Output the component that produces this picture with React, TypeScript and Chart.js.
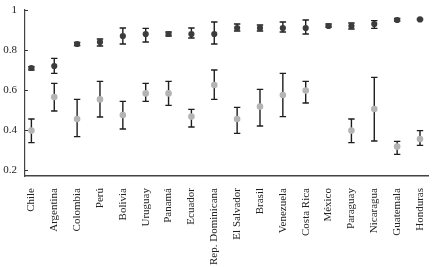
import React, { useEffect, useRef } from "react";
import { Chart, registerables } from "chart.js";

Chart.register(...registerables);

const countries = [
  "Chile", "Argentina", "Colombia", "Perú", "Bolivia", "Uruguay", "Panamá", "Ecuador",
  "Rep. Dominicana", "El Salvador", "Brasil", "Venezuela", "Costa Rica", "México",
  "Paraguay", "Nicaragua", "Guatemala", "Honduras",
];

const upperMean = [0.71, 0.72, 0.83, 0.84, 0.87, 0.88, 0.88, 0.88, 0.88, 0.91, 0.91, 0.91, 0.91, 0.92, 0.92, 0.93, 0.95, 0.953];
const upperLow = [0.70, 0.683, 0.822, 0.82, 0.83, 0.84, 0.87, 0.86, 0.83, 0.895, 0.895, 0.89, 0.88, 0.915, 0.905, 0.908, 0.945, 0.95];
const upperHigh = [0.717, 0.758, 0.838, 0.855, 0.91, 0.908, 0.89, 0.91, 0.94, 0.93, 0.925, 0.94, 0.95, 0.93, 0.935, 0.947, 0.958, 0.956];

const lowerMean = [0.397, 0.565, 0.455, 0.553, 0.475, 0.583, 0.583, 0.467, 0.625, 0.455, 0.517, 0.575, 0.597, null, 0.397, 0.505, 0.317, 0.355];
const lowerLow = [0.337, 0.495, 0.367, 0.465, 0.405, 0.543, 0.523, 0.415, 0.553, 0.383, 0.42, 0.467, 0.535, null, 0.337, 0.345, 0.278, 0.323];
const lowerHigh = [0.455, 0.633, 0.553, 0.643, 0.543, 0.633, 0.643, 0.503, 0.70, 0.513, 0.603, 0.683, 0.643, null, 0.455, 0.663, 0.343, 0.397];

const yTicks = [0.2, 0.4, 0.6, 0.8, 1];

const errorBars = {
  id: "errorBars",
  beforeDatasetsDraw(chart: any) {
    const ctx = chart.ctx;
    const xs = chart.scales.x;
    const ys = chart.scales.y;
    const sets = [
      [upperLow, upperHigh],
      [lowerLow, lowerHigh],
    ];
    ctx.save();
    ctx.strokeStyle = "#1e1e1e";
    ctx.lineWidth = 1.4;
    for (const [lo, hi] of sets) {
      for (let i = 0; i < countries.length; i++) {
        const l = lo[i];
        const h = hi[i];
        if (l == null || h == null) continue;
        const x = xs.getPixelForValue(i);
        const y1 = ys.getPixelForValue(l);
        const y2 = ys.getPixelForValue(h);
        ctx.beginPath();
        ctx.moveTo(x, y1);
        ctx.lineTo(x, y2);
        ctx.moveTo(x - 3.2, y1);
        ctx.lineTo(x + 3.2, y1);
        ctx.moveTo(x - 3.2, y2);
        ctx.lineTo(x + 3.2, y2);
        ctx.stroke();
      }
    }
    // y-axis inner tick marks
    ctx.strokeStyle = "#333";
    ctx.lineWidth = 1;
    const left = chart.chartArea.left;
    for (const t of yTicks) {
      const y = Math.round(ys.getPixelForValue(t)) + 0.5;
      ctx.beginPath();
      ctx.moveTo(left, y);
      ctx.lineTo(left + 3, y);
      ctx.stroke();
    }
    ctx.restore();
  },
};

export default function App() {
  const ref = useRef<HTMLCanvasElement>(null);
  useEffect(() => {
    document.body.style.margin = "0";
    const upperData = upperMean.map((v, i) => ({ x: i, y: v }));
    const lowerData = lowerMean.map((v, i) => ({ x: i, y: v }));
    const chart = new Chart(ref.current!, {
      type: "scatter",
      data: {
        datasets: [
          {
            data: upperData,
            pointRadius: 3.1,
            pointBackgroundColor: "#3c3c3c",
            pointBorderColor: "#3c3c3c",
            pointBorderWidth: 0,
          },
          {
            data: lowerData as any,
            pointRadius: 3.3,
            pointBackgroundColor: "#b4b4b4",
            pointBorderColor: "#b4b4b4",
            pointBorderWidth: 0,
          },
        ],
      },
      options: {
        animation: false,
        responsive: false,
        layout: { padding: { top: 10, right: 6, left: 0, bottom: 0 } },
        plugins: { legend: { display: false }, tooltip: { enabled: false } },
        scales: {
          x: {
            type: "linear",
            min: -0.28,
            max: 17.35,
            afterBuildTicks(scale: any) {
              scale.ticks = countries.map((_, i) => ({ value: i }));
            },
            afterFit(scale: any) {
              scale.height = 91;
              scale.paddingLeft = 0;
              scale.paddingRight = 0;
            },
            grid: { display: false, drawTicks: false },
            border: { display: true, color: "#444", width: 1.5 },
            ticks: {
              autoSkip: false,
              minRotation: 90,
              maxRotation: 90,
              padding: 12,
              color: "#222",
              font: { family: "Liberation Serif", size: 11 },
              callback: (v: any) => countries[v as number] ?? "",
            },
          },
          y: {
            min: 0.17,
            max: 1,
            afterBuildTicks(scale: any) {
              scale.ticks = yTicks.map((v) => ({ value: v }));
            },
            afterFit(scale: any) {
              scale.width = 25;
              scale.paddingTop = 0;
              scale.paddingBottom = 0;
            },
            grid: { display: false, drawTicks: false },
            border: { display: true, color: "#444", width: 1.2 },
            ticks: {
              padding: 8,
              color: "#222",
              font: { family: "Liberation Serif", size: 11 },
              callback: (v: any) => String(Math.round(Number(v) * 10) / 10),
            },
          },
        },
      },
      plugins: [errorBars],
    });
    return () => chart.destroy();
  }, []);
  return <canvas ref={ref} width={434} height={267} style={{ display: "block" }} />;
}
